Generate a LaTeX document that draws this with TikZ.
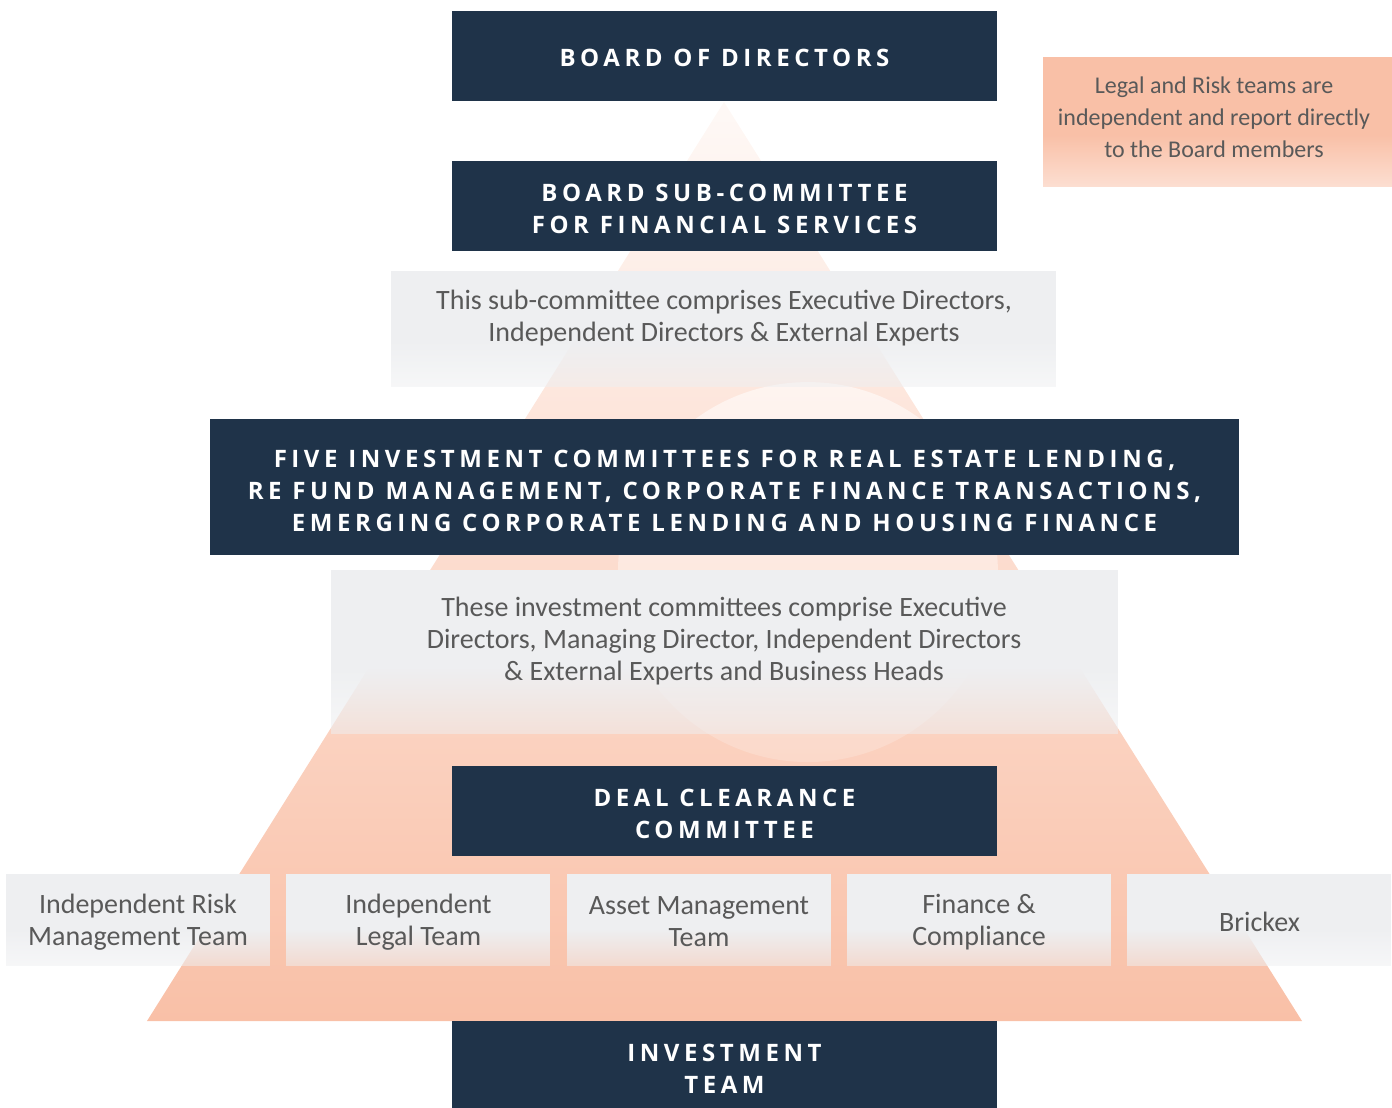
\documentclass[tikz,border=0pt]{standalone}
\usepackage{fontspec}
\setmainfont{Carlito}
\newfontfamily\headfont[LetterSpace=19]{Open Sans}
\usepackage{xcolor}
\usetikzlibrary{fadings,positioning}

\definecolor{navy}{RGB}{31,51,73}
\definecolor{peach}{RGB}{249,192,167}
\definecolor{boxgray}{RGB}{238,239,241}
\definecolor{textgray}{RGB}{89,89,89}

% fadings: opaque at the top, clear at the bottom
\pgfdeclareverticalshading{boxshade}{100bp}{color(0bp)=(transparent!100); color(10bp)=(transparent!85); color(45bp)=(transparent!0); color(100bp)=(transparent!0)}
\pgfdeclarefading{boxfade}{\pgfuseshading{boxshade}}
\pgfdeclareverticalshading{ballshade}{100bp}{color(0bp)=(transparent!100); color(100bp)=(transparent!25)}
\pgfdeclarefading{ballfade}{\pgfuseshading{ballshade}}

\begin{document}
\begin{tikzpicture}[
    x=1pt, y=-1pt,
    darkbox/.style={rectangle,fill=navy,minimum width=545pt,minimum height=90pt,inner sep=0pt},
    headtext/.style={text=white,align=center,inner sep=0pt,font=\headfont\bfseries\fontsize{24}{32}\selectfont},
    graybox/.style={rectangle,fill=boxgray,inner sep=0pt,path fading=boxfade},
    graytext/.style={text=textgray,align=center,inner sep=0pt,font=\fontsize{28}{32}\selectfont},
    teambox/.style={graybox,minimum width=264pt,minimum height=92pt}
]
\useasboundingbox (0,0) rectangle (1392,1108);

%--------------------------------------------------------------------
% Background: pyramid and soft disc
%--------------------------------------------------------------------
\shade[top color=peach!10, bottom color=peach] (724,102) -- (1302,1021) -- (147,1021) -- cycle;
\fill[white, path fading=ballfade] (808,572) circle[radius=190];

%--------------------------------------------------------------------
% Grey description panels
%--------------------------------------------------------------------
\node[graybox,minimum width=666pt,minimum height=116pt] (subpanel) at (724,329) {};
\node[graytext] (subnote) at (724,318) {This sub-committee comprises Executive Directors,\\Independent Directors \& External Experts};

\node[graybox,minimum width=787pt,minimum height=164pt] (icpanel) at (724.5,652) {};
\node[graytext] (icnote) at (724,641) {These investment committees comprise Executive\\Directors, Managing Director, Independent Directors\\\& External Experts and Business Heads};

% teams row
\node[teambox] (risk)    at (138,920)    {};
\node[teambox] (legal)   at (418.5,920)  {};
\node[teambox] (asset)   at (699,920)    {};
\node[teambox] (finance) at (979,920)    {};
\node[teambox] (brickex) at (1259.5,920) {};
\node[graytext] (risklbl)    at (138,922)    {Independent Risk\\Management Team};
\node[graytext] (legallbl)   at (418.5,922)  {Independent\\Legal Team};
\node[graytext] (assetlbl)   at (699,922)    {Asset Management\\Team};
\node[graytext] (financelbl) at (979,922)    {Finance \&\\Compliance};
\node[graytext] (brickexlbl) at (1259.5,922) {Brickex};

% side note
\node[rectangle,fill=peach,inner sep=0pt,path fading=boxfade,minimum width=349pt,minimum height=130pt] (notepanel) at (1217.5,122) {};
\node[text=textgray,align=center,inner sep=0pt,font=\fontsize{24}{32}\selectfont] (note) at (1214,117) {Legal and Risk teams are\\independent and report directly\\to the Board members};

%--------------------------------------------------------------------
% Committee boxes
%--------------------------------------------------------------------
\node[darkbox] (board)  at (724.5,56)  {};
\node[headtext] (boardlbl) at (724.5,58) {BOARD OF DIRECTORS};

\node[darkbox] (subcom) at (724.5,206) {};
\node[headtext] (subcomlbl) at (724.5,209) {BOARD SUB-COMMITTEE\\FOR FINANCIAL SERVICES};

\node[darkbox,minimum width=1029pt,minimum height=136pt] (invest) at (724.5,487) {};
\node[headtext] (investlbl) at (724.5,491) {FIVE INVESTMENT COMMITTEES FOR REAL ESTATE LENDING,\\RE FUND MANAGEMENT, CORPORATE FINANCE TRANSACTIONS,\\EMERGING CORPORATE LENDING AND HOUSING FINANCE};

\node[darkbox] (deal)   at (724.5,811) {};
\node[headtext] (deallbl) at (724.5,814) {DEAL CLEARANCE\\COMMITTEE};

\node[darkbox,minimum height=87pt] (team) at (724.5,1064.5) {};
\node[headtext] (teamlbl) at (724.5,1069) {INVESTMENT\\TEAM};

\end{tikzpicture}
\end{document}
